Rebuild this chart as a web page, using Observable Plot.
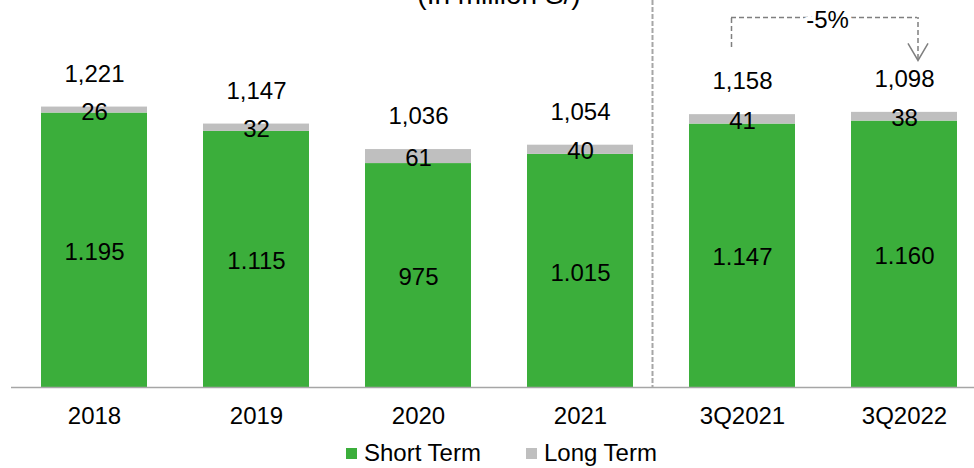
<!DOCTYPE html>
<html>
<head>
<meta charset="utf-8">
<script src="https://cdn.jsdelivr.net/npm/d3@7"></script>
<script src="https://cdn.jsdelivr.net/npm/@observablehq/plot@0.6"></script>
<style>
  body { margin: 0; background: #fff; }
  #wrap { position: relative; width: 974px; height: 468px; overflow: hidden; font-family: "Liberation Sans", Arial, sans-serif; }
  #title { position: absolute; left: 349px; width: 300px; top: -19px; text-align: center; font-size: 28px; line-height: 28px; color: #000; z-index: 2; }
  #legend { position: absolute; left: 346px; top: 440px; display: flex; align-items: center; font-size: 24px; line-height: 26px; color: #000; }
  #legend .item { display: flex; align-items: center; margin-right: 45px; }
  #legend .sw { width: 11px; height: 11px; margin-right: 7px; }
</style>
</head>
<body>
<div id="wrap">
  <div id="title">(In million S/)</div>
  <div id="chart"></div>
  <div id="legend"></div>
</div>
<script>
// Loans by term, in million S/
const periods = ["2018", "2019", "2020", "2021", "3Q2021", "3Q2022"];
const shortTerm = [1195, 1115, 975, 1015, 1147, 1160];
const longTerm = [26, 32, 61, 40, 41, 38];
const totals = [1221, 1147, 1036, 1054, 1158, 1098];
const seriesNames = ["Short Term", "Long Term"];
const seriesColors = ["#3BAE3B", "#BFBFBF"];
const changeLabel = "-5%";

const dotFmt = d3.formatLocale({decimal: ",", thousands: ".", grouping: [3]}).format(",d");
const commaFmt = d3.format(",d");

const rows = [];
periods.forEach((p, i) => {
  rows.push({period: p, series: seriesNames[0], value: shortTerm[i], label: dotFmt(shortTerm[i])});
  rows.push({period: p, series: seriesNames[1], value: longTerm[i], label: String(longTerm[i])});
});
const totalRows = periods.map((p, i) => ({period: p, stack: shortTerm[i] + longTerm[i], label: commaFmt(totals[i])}));

// open chevron used as the arrow head of the change bracket
const chevron = {
  draw(ctx, size) {
    const r = Math.sqrt(size / Math.PI);
    ctx.moveTo(-0.59 * r, -r);
    ctx.lineTo(0, 0);
    ctx.lineTo(0.59 * r, -r);
  }
};

const bracketStyle = {stroke: "#7F7F7F", strokeWidth: 1.5, strokeDasharray: "5,3"};

const chart = Plot.plot({
  width: 974,
  height: 430,
  marginTop: 0,
  marginBottom: 43,
  marginLeft: 39,
  marginRight: 16,
  style: {fontFamily: "'Liberation Sans', Arial, sans-serif", fontSize: "24px", color: "#000", background: "transparent"},
  x: {domain: periods, paddingInner: 0.348, paddingOuter: 0, tickSize: 0, tickPadding: 19, label: null},
  y: {domain: [0, 1685], axis: null},
  color: {domain: seriesNames, range: seriesColors},
  marks: [
    // separator between yearly and quarterly figures
    Plot.ruleX(["3Q2021"], {x: d => d, dx: -90, stroke: "#A6A6A6", strokeWidth: 2, strokeDasharray: "5,2"}),
    Plot.barY(rows, {x: "period", y: "value", fill: "series"}),
    Plot.ruleY([0], {stroke: "#A6A6A6", strokeWidth: 1.5, insetLeft: -28, insetRight: -16}),
    Plot.text(rows, Plot.stackY({x: "period", y: "value", text: "label", fill: "#000", dy: 2, fontSize: 24})),
    Plot.text(totalRows, {x: "period", y: "stack", text: "label", fill: "#000", dy: -33, fontSize: 24}),
    // change bracket between the two quarters
    Plot.ruleX(["3Q2021"], {x: d => d, y1: 1480, y2: 1611, dx: -11, ...bracketStyle}),
    Plot.ruleX(["3Q2022"], {x: d => d, y1: 1428, y2: 1611, dx: 13.5, ...bracketStyle}),
    Plot.ruleY([1611], {x1: () => "3Q2021", x2: () => "3Q2022", insetLeft: 42, insetRight: 40, ...bracketStyle}),
    Plot.dot(["3Q2022"], {x: d => d, y: 1424, dx: 13.5, r: 17, symbol: chevron, fill: "none", stroke: "#7F7F7F", strokeWidth: 1.5}),
    Plot.text([changeLabel], {x: () => "3Q2021", y: 1611, dx: 85, dy: 3, text: d => d, fill: "#000", stroke: "white", strokeWidth: 8, fontSize: 24})
  ]
});
document.getElementById("chart").appendChild(chart);

const legend = document.getElementById("legend");
seriesNames.forEach((name, i) => {
  const item = document.createElement("div");
  item.className = "item";
  const sw = document.createElement("span");
  sw.className = "sw";
  sw.style.background = seriesColors[i];
  const label = document.createElement("span");
  label.textContent = name;
  item.appendChild(sw);
  item.appendChild(label);
  legend.appendChild(item);
});
</script>
</body>
</html>
